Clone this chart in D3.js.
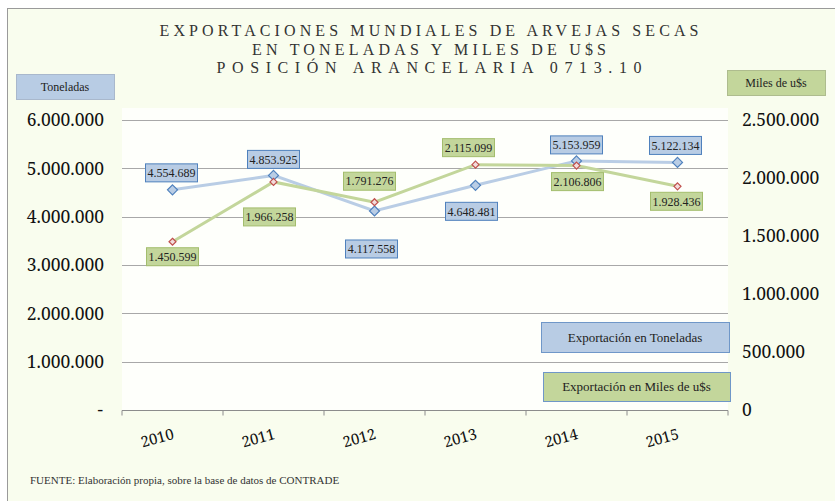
<!DOCTYPE html>
<html lang="es">
<head>
<meta charset="UTF-8">
<title>Exportaciones mundiales de arvejas secas</title>
<script src="https://d3js.org/d3.v7.min.js"></script>
<style>
    body { margin: 0; background: #fff; }
</style>
</head>
<body>
<div id="chart"></div>
<script>
// data
const years = ["2010", "2011", "2012", "2013", "2014", "2015"];
const toneladas = [4554689, 4853925, 4117558, 4648481, 5153959, 5122134];
const milesUsd = [1450599, 1966258, 1791276, 2115099, 2106806, 1928436];
const leftTicks = [0, 1000000, 2000000, 3000000, 4000000, 5000000, 6000000];
const rightTicks = [0, 500000, 1000000, 1500000, 2000000, 2500000];
const titleLines = ["EXPORTACIONES MUNDIALES DE ARVEJAS SECAS", "EN TONELADAS Y MILES DE U$S", "POSICIÓN ARANCELARIA 0713.10"];

// layout only
const titleWidths = [539, 354, 425];
const tonLabelOffset = [[-1, -17], [0, -16], [-3, 38], [-4, 26], [0, -16], [-2, -17]];
const usdLabelOffset = [[0, 15], [-4, 35], [-5, -21], [-7, -17], [1, 16], [-1, 15]];

const SERIF = '"Liberation Serif", serif';
const NUMF = '"Noto Serif", serif';

const W = 835, H = 501;
const m = { left: 122, right: 728, top: 120, bottom: 410 };

const svg = d3.select("#chart").append("svg")
    .attr("width", W).attr("height", H)
    .style("font-family", SERIF);

// frame
svg.append("rect").attr("x", 7.5).attr("y", 8.5).attr("width", 840).attr("height", 510)
    .attr("fill", "#f9fdee").attr("stroke", "#9a9a9a");
svg.append("rect").attr("x", m.left).attr("y", 108).attr("width", m.right - m.left)
    .attr("height", m.bottom - 108).attr("fill", "#fefffb");

// title, letter-spaced to fit
svg.selectAll(".title").data(titleLines).enter().append("text")
    .attr("class", "title")
    .attr("y", (d, i) => 36 + i * 18.5)
    .style("font-family", SERIF).style("font-size", "16px").attr("fill", "#333")
    .text(d => d)
    .each(function(d, i) {
        const nat = this.getComputedTextLength();
        const ls = (titleWidths[i] - nat) / (d.length - 1);
        d3.select(this).style("letter-spacing", ls + "px")
            .attr("x", 429 - titleWidths[i] / 2);
    });

const x = d3.scaleBand().domain(years).range([m.left, m.right]);
const yL = d3.scaleLinear().domain([0, 6000000]).range([m.bottom, m.top]);
const yR = d3.scaleLinear().domain([0, 2500000]).range([m.bottom, m.top]);
const cx = d => x(d) + x.bandwidth() / 2;

const fmt = v => d3.format(",")(v).replace(/,/g, ".");

// grid
svg.append("g").selectAll("line").data(leftTicks.filter(t => t > 0)).enter().append("line")
    .attr("x1", m.left).attr("x2", m.right)
    .attr("y1", d => Math.round(yL(d)) + 0.5).attr("y2", d => Math.round(yL(d)) + 0.5)
    .attr("stroke", "#a8a8a8").attr("stroke-width", 1);

// left axis labels
svg.append("g").selectAll("text").data(leftTicks).enter().append("text")
    .style("font-family", NUMF).style("font-size", "17.5px").attr("fill", "#111")
    .attr("x", d => d === 0 ? 103 : 104).attr("y", d => yL(d))
    .attr("dy", "0.36em").attr("text-anchor", "end")
    .text(d => d === 0 ? "-" : fmt(d));

// right axis labels
svg.append("g").selectAll("text").data(rightTicks).enter().append("text")
    .style("font-family", NUMF).style("font-size", "17.5px").attr("fill", "#111")
    .attr("x", 742).attr("y", d => yR(d))
    .attr("dy", "0.36em")
    .text(d => fmt(d));

// x axis
const xAxis = svg.append("g").attr("transform", `translate(0,${m.bottom + 0.5})`)
    .call(d3.axisBottom(x).tickSize(0).tickFormat(""));
xAxis.select(".domain").attr("stroke", "#8c8c8c").attr("d", `M${m.left},5V0H${m.right}V5`);
xAxis.selectAll(".bnd").data(years.slice(1)).enter().append("line")
    .attr("x1", d => x(d)).attr("x2", d => x(d)).attr("y1", 0).attr("y2", 5)
    .attr("stroke", "#8c8c8c");

svg.append("g").selectAll("text").data(years).enter().append("text")
    .style("font-family", NUMF).style("font-size", "15px").attr("fill", "#111")
    .attr("transform", d => `translate(${cx(d)},${m.bottom + 20}) rotate(-15)`)
    .attr("text-anchor", "end")
    .attr("dy", "0.6em")
    .text(d => d);

// lines
const lineL = d3.line().x((d, i) => cx(years[i])).y(d => yL(d));
const lineR = d3.line().x((d, i) => cx(years[i])).y(d => yR(d));

svg.append("path").datum(toneladas).attr("d", lineL)
    .attr("fill", "none").attr("stroke", "#b9cde5").attr("stroke-width", 3);
svg.append("path").datum(milesUsd).attr("d", lineR)
    .attr("fill", "none").attr("stroke", "#c3d69b").attr("stroke-width", 3);

const diamond = s => `M0,${-s}L${s},0L0,${s}L${-s},0Z`;

svg.append("g").selectAll("path").data(toneladas).enter().append("path")
    .attr("transform", (d, i) => `translate(${cx(years[i])},${yL(d)})`)
    .attr("d", diamond(5))
    .attr("fill", "#b9cde5").attr("stroke", "#4f81bd").attr("stroke-width", 1.2);
svg.append("g").selectAll("path").data(milesUsd).enter().append("path")
    .attr("transform", (d, i) => `translate(${cx(years[i])},${yR(d)})`)
    .attr("d", diamond(3.5))
    .attr("fill", "#f2dcdb").attr("stroke", "#c0504d").attr("stroke-width", 1.2);

// data labels
function addLabels(values, scale, offsets, fill, stroke) {
    const g = svg.append("g");
    values.forEach((v, i) => {
        const px = cx(years[i]) + offsets[i][0];
        const py = scale(v) + offsets[i][1];
        const bw = 52, bh = 18;
        g.append("rect").attr("x", px - bw / 2).attr("y", py - bh / 2)
            .attr("width", bw).attr("height", bh)
            .attr("fill", fill).attr("stroke", stroke).attr("stroke-width", 1);
        g.append("text").style("font-family", SERIF).style("font-size", "12px").attr("fill", "#222")
            .attr("x", px).attr("y", py)
            .attr("dy", "0.35em").attr("text-anchor", "middle").text(fmt(v));
    });
}
addLabels(toneladas, yL, tonLabelOffset, "#b8cce4", "#4f81bd");
addLabels(milesUsd, yR, usdLabelOffset, "#c3d69b", "#a3bd6d");

// boxes with text
function box(x0, y0, w, h, fill, stroke, txt, size) {
    svg.append("rect").attr("x", x0 + 0.5).attr("y", y0 + 0.5).attr("width", w).attr("height", h)
        .attr("fill", fill).attr("stroke", stroke);
    svg.append("text").attr("x", x0 + w / 2).attr("y", y0 + h / 2).attr("dy", "0.35em")
        .attr("text-anchor", "middle").style("font-family", SERIF).style("font-size", size + "px")
        .attr("fill", "#222").text(txt);
}
box(16, 74, 98, 25, "#b8cce4", "#a9b8cc", "Toneladas", 12);
box(727, 70, 98, 25, "#c3d69b", "#aebc8e", "Miles de u$s", 12);

// legend
box(541, 322, 188, 30, "#b8cce4", "#6f97c8", "Exportación en Toneladas", 13);
box(543, 372, 187, 29, "#c3d69b", "#6f97c8", "Exportación en Miles de u$s", 13);

// footer
svg.append("text").attr("x", 30).attr("y", 484)
    .style("font-family", SERIF).style("font-size", "11px").attr("fill", "#333")
    .text("FUENTE: Elaboración propia, sobre la base de datos de CONTRADE");
</script>
</body>
</html>
